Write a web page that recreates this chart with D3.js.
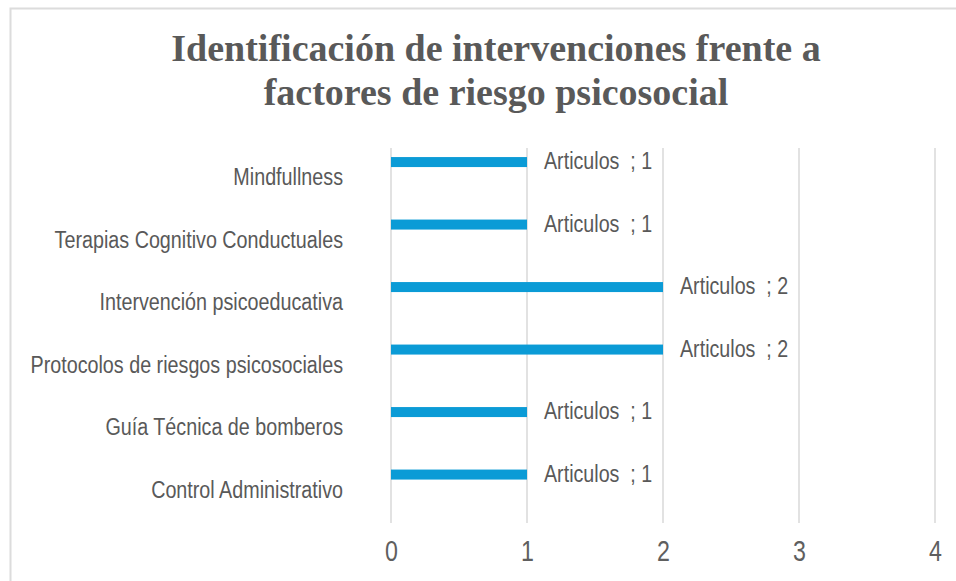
<!DOCTYPE html>
<html>
<head>
<meta charset="utf-8">
<script src="https://cdn.jsdelivr.net/npm/d3@7"></script>
<style>
  body { margin: 0; background: #fff; }
  svg { display: block; }
  .narrow { font-family: "Liberation Sans Narrow", "Arial Narrow", "Liberation Sans", sans-serif; }
</style>
</head>
<body>
<div id="chart"></div>
<script>
// *** data
var categories = ["Mindfullness", "Terapias Cognitivo Conductuales", "Intervención psicoeducativa",
    "Protocolos de riesgos psicosociales", "Guía Técnica de bomberos", "Control Administrativo"];
var articulos = [1, 1, 2, 2, 1, 1];
var seriesName = "Articulos";
var xTicks = [0, 1, 2, 3, 4];
var titleLines = ["Identificación de intervenciones frente a", "factores de riesgo psicosocial"];

var data = categories.map(function(c, i) { return { name: c, value: articulos[i] }; });

// no narrow font installed -> squeeze the regular sans horizontally
function placeNarrow(px, py, sx) { return "translate(" + px + "," + py + ") scale(" + sx + ",1)"; }

// *** svg setup
var W = 956, H = 581;
var margin = { top: 148, right: 21, bottom: 58, left: 391 },
    width = W - margin.left - margin.right,
    height = H - margin.top - margin.bottom;

var svg = d3.select("#chart").append("svg")
    .attr("width", W)
    .attr("height", H);

// chart frame (right/bottom edges fall outside the picture)
svg.append("rect")
    .attr("x", 10.5).attr("y", 8.5)
    .attr("width", 1000).attr("height", 620)
    .attr("fill", "none")
    .attr("stroke", "#dcdcdc")
    .attr("stroke-width", 2);

// title
svg.append("g").selectAll("text")
    .data(titleLines)
    .enter().append("text")
    .attr("x", 496)
    .attr("y", function(d, i) { return 61 + i * 44; })
    .attr("text-anchor", "middle")
    .style("font-family", "'Liberation Serif', 'Times New Roman', serif")
    .style("font-weight", "bold")
    .style("font-size", "38px")
    .style("fill", "#595959")
    .text(function(d) { return d; });

var g = svg.append("g")
    .attr("transform", "translate(" + margin.left + "," + margin.top + ")");

var x = d3.scaleLinear().domain([0, 4]).range([0, width]);
var y = d3.scaleBand().domain(categories).range([0, height]);

// grid
g.append("g").selectAll("line")
    .data(xTicks)
    .enter().append("line")
    .attr("x1", function(d) { return x(d); })
    .attr("x2", function(d) { return x(d); })
    .attr("y1", 0)
    .attr("y2", height)
    .attr("stroke", "#d9d9d9")
    .attr("stroke-width", 1.5);

// x axis labels
var xAxis = d3.axisBottom(x).tickValues(xTicks).tickSize(0).tickPadding(17).tickFormat(d3.format("d"));
g.append("g")
    .attr("class", "x axis")
    .attr("transform", "translate(0," + height + ")")
    .call(xAxis)
    .call(function(s) { s.select(".domain").remove(); })
    .selectAll("text")
    .attr("class", "narrow")
    .attr("transform", "scale(0.8,1)")
    .style("font-size", "29px")
    .style("fill", "#5f5f5f");

// category labels
g.append("g").selectAll("text")
    .data(data)
    .enter().append("text")
    .attr("class", "narrow")
    .attr("transform", function(d) { return placeNarrow(-48, y(d.name) + y.bandwidth() / 2 + 6, 0.84); })
    .attr("text-anchor", "end")
    .style("font-size", "23.5px")
    .style("fill", "#595959")
    .text(function(d) { return d.name; });

// bars sit in the upper slot of each band
var barH = 10;
function barY(d) { return y(d.name) + y.bandwidth() * 0.225 - barH / 2; }

g.append("g").selectAll("rect")
    .data(data)
    .enter().append("rect")
    .attr("x", x(0))
    .attr("y", barY)
    .attr("width", function(d) { return x(d.value) - x(0); })
    .attr("height", barH)
    .attr("fill", "#0b9bd6");

// data labels
g.append("g").selectAll("text")
    .data(data)
    .enter().append("text")
    .attr("class", "narrow")
    .attr("transform", function(d) { return placeNarrow(x(d.value) + 17, barY(d) + barH / 2 + 7, 0.82); })
    .style("font-size", "24px")
    .style("fill", "#595959")
    .style("white-space", "pre")
    .text(function(d) { return seriesName + "  ; " + d.value; });
</script>
</body>
</html>
